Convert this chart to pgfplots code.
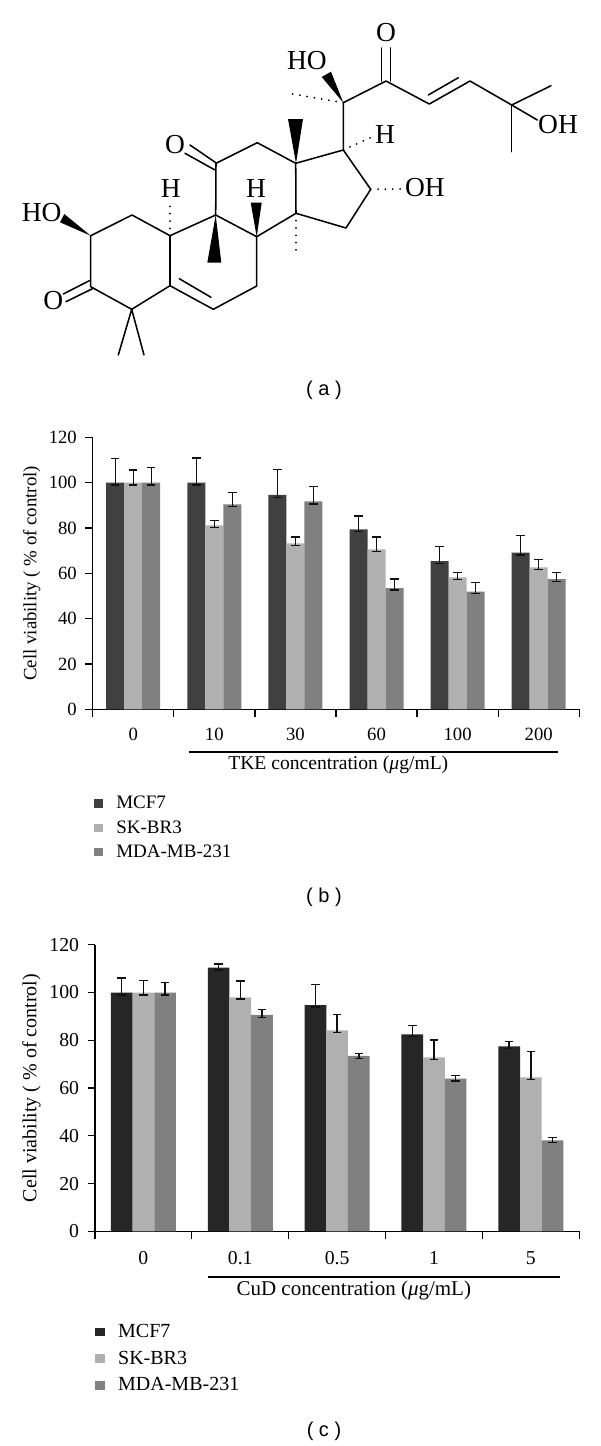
\documentclass[border=0pt]{standalone}
\usepackage{fontspec}
\setmainfont{Liberation Serif}
\newfontfamily\capfont{Liberation Sans}
\usepackage{pgfplots}
\pgfplotsset{compat=1.18}
% 1 px of the reference = 0.75pt
\definecolor{mcfb}{HTML}{404040}
\definecolor{mcfc}{HTML}{262626}
\definecolor{skbr}{HTML}{B0B0B0}
\definecolor{mdamb}{HTML}{808080}
\definecolor{errcol}{HTML}{111111}
\newcommand{\fs}[1]{\fontsize{#1}{#1}\selectfont}
\pgfplotsset{
  viab/.style={
    scale only axis,
    ybar=0pt,
    axis x line*=bottom,
    axis y line*=left,
    axis line style={line width=0.95pt,black},
    tick style={line width=0.95pt,black},
    tick align=outside,
    major tick length=5.4pt,
    ymin=0, ymax=120,
    ytick={0,20,40,60,80,100,120},
    x tick label as interval,
    /pgf/number format/assume math mode=true,
    xticklabel style={yshift=-5.2pt},
    yticklabel style={xshift=-3pt},
    ylabel={Cell viability ( \% of control)},
    legend cell align=left,
    legend image code/.code={\fill[##1] (0pt,-3.2pt) rectangle (6.8pt,3.2pt);},
    legend style={draw=none,fill=none,inner sep=0pt,outer sep=0pt,anchor=north west,
      /tikz/every even column/.append style={column sep=0pt}},
  },
  ebar/.style={
    draw=none, fill=#1,
    error bars/.cd, y dir=both, y explicit,
    error bar style={line width=1.05pt,errcol},
    error mark options={rotate=90,errcol,line width=1.05pt,mark size=3.2pt},
  },
}
\begin{document}
\begin{tikzpicture}
\useasboundingbox (0,0) rectangle (450pt,-1084.5pt);

% structure, panel (a)
\begin{scope}[x=0.75pt,y=-0.75pt,line width=1.15pt,line join=round,line cap=round]
\draw (90.7,235.7) -- (132,215) -- (170,235.7) -- (170,285.7) -- (131.7,309.3) -- (90.7,286.7) -- cycle;
\draw (170,285.7) -- (213.3,309.3) -- (256.7,286) -- (256.7,236.7) -- (215.7,215) -- (170,235.7);
\draw (179.3,278.7) -- (211,297.3);
\draw (215.7,215) -- (216,163.3) -- (257.3,142.7) -- (295.7,163.3) -- (296,213.3) -- (256.7,236.7);
\draw (295.7,163.3) -- (343.3,150) -- (370.7,189.3) -- (346,228) -- (296,213.3);
\draw (343.3,150) -- (343.3,102.7) -- (386,81) -- (429.3,104) -- (470,81) -- (511.7,105) -- (551,85.7);
\draw (428.3,95) -- (458.3,77.7);
\draw (511.7,105) -- (511.7,151.7);
\draw (511.7,105) -- (537.3,120);
\draw (381.7,81) -- (381.7,48) (390.7,81) -- (390.7,48);
\draw (190,145) -- (216.7,163.3) (185,153.3) -- (215,170);
\draw (89.3,280.7) -- (63.3,294) (93.3,288.3) -- (66,301.7);
\draw (131.7,309.3) -- (118.3,355) (131.7,309.3) -- (144,355);
% wedges
\fill (90.7,235.7) -- (64.3,214) -- (60,222.3) -- cycle;
\fill (215.7,215) -- (207.3,262.7) -- (221.3,262.7) -- cycle;
\fill (256.7,236.7) -- (250.7,202.7) -- (261.7,202.7) -- cycle;
\fill (296,163.3) -- (288,119) -- (303,119) -- cycle;
\fill (343.3,102.7) -- (321.7,77) -- (331,71.7) -- cycle;
% hashed bonds
\begin{scope}[line width=1.5pt,dash pattern=on 0pt off 5.5pt]
\draw (170,235.7) -- (170,204);
\draw (296,213.3) -- (296,252);
\draw (343.3,102.7) -- (287,93);
\draw (343.3,150) -- (371.7,137);
\draw (370.7,189.3) -- (401,189);
\end{scope}
% atoms
\begin{scope}[every node/.style={inner sep=0pt,font=\fs{20.6}}]
\node at (41.7,212.7) {HO};
\node at (53.3,300.7) {O};
\node at (175,145) {O};
\node at (170.7,189) {H};
\node at (256,189) {H};
\node at (307,61) {HO};
\node at (386,33) {O};
\node at (385,135) {H};
\node at (425,188) {OH};
\node at (558,125) {OH};
\end{scope}
% captions and the lines below the tick labels
\begin{scope}[every node/.style={inner sep=0pt}]
\node[font=\capfont\fs{15}] at (324,390) {( a )};
\node[font=\capfont\fs{15}] at (324,897) {( b )};
\node[font=\capfont\fs{15}] at (324,1431.7) {( c )};
\node[font=\fs{14.7}] at (338.3,765) {TKE concentration ({\itshape μ}g/mL)};
\node[font=\fs{15.75}] at (353.8,1290) {CuD concentration ({\itshape μ}g/mL)};
\end{scope}
\draw[line width=0.95pt,line cap=butt] (188.5,752) -- (557.7,752);
\draw[line width=0.95pt,line cap=butt] (207.7,1277) -- (559.6,1277);
\end{scope}

% panel (b)
\begin{axis}[viab,
  at={(69.5pt,-532pt)}, anchor=south west,
  width=364.95pt, height=204pt,
  font=\fs{14},
  tick label style={font=\fs{14}},
  label style={font=\fs{14.1}},
  ylabel style={at={(axis description cs:-0.125,0.5)},anchor=center},
  bar width=13.5pt,
  xmin=-0.5, xmax=5.5,
  xtick={-0.5,0.5,1.5,2.5,3.5,4.5,5.5},
  xticklabels={0,10,30,60,100,200},
  legend style={at={(axis description cs:0.002,-0.31)},font=\fs{14.25},row sep=3.2pt},
]
\addplot[ebar=mcfb] coordinates {
  (0,100) += (0,10.7) -= (0,1)
  (1,100) += (0,10.9) -= (0,1)
  (2,94.6) += (0,11.3) -= (0,1.1)
  (3,79.4) += (0,5.9) -= (0,1)
  (4,65.4) += (0,6.5) -= (0,1)
  (5,69.1) += (0,7.5) -= (0,1)};
\addlegendentry{\hspace{8.2pt}MCF7}
\addplot[ebar=skbr] coordinates {
  (0,100) += (0,5.6) -= (0,1)
  (1,81.2) += (0,2.2) -= (0,0.9)
  (2,73.2) += (0,2.8) -= (0,0.8)
  (3,70.6) += (0,5.4) -= (0,1)
  (4,58.2) += (0,2.1) -= (0,0.8)
  (5,62.6) += (0,3.4) -= (0,1)};
\addlegendentry{\hspace{8.2pt}SK-BR3}
\addplot[ebar=mdamb] coordinates {
  (0,100) += (0,6.8) -= (0,1)
  (1,90.4) += (0,5.2) -= (0,1)
  (2,91.8) += (0,6.4) -= (0,1.2)
  (3,53.5) += (0,4) -= (0,0.9)
  (4,51.9) += (0,4) -= (0,0.9)
  (5,57.5) += (0,2.8) -= (0,1)};
\addlegendentry{\hspace{8.2pt}MDA-MB-231}
\end{axis}

% panel (c)
\begin{axis}[viab,
  at={(71.25pt,-923.5pt)}, anchor=south west,
  width=363.2pt, height=214.95pt,
  font=\fs{14.8},
  tick label style={font=\fs{14.8}},
  label style={font=\fs{15}},
  xticklabel style={yshift=-1pt},
  ylabel style={at={(axis description cs:-0.131,0.5)},anchor=center},
  bar width=16.25pt,
  xmin=-0.5, xmax=4.5,
  xtick={-0.5,0.5,1.5,2.5,3.5,4.5},
  xticklabels={0,0.1,0.5,1,5},
  legend style={at={(axis description cs:0.001,-0.315)},font=\fs{15},row sep=4.6pt},
]
\addplot[ebar=mcfc] coordinates {
  (0,100) += (0,6) -= (0,1)
  (1,110.4) += (0,1.6) -= (0,0.9)
  (2,94.7) += (0,8.6) -= (0,0.8)
  (3,82.5) += (0,3.6) -= (0,1)
  (4,77.4) += (0,2) -= (0,0.8)};
\addlegendentry{\hspace{8.2pt}MCF7}
\addplot[ebar=skbr] coordinates {
  (0,100) += (0,5) -= (0,1)
  (1,98) += (0,6.8) -= (0,0.7)
  (2,84.1) += (0,6.6) -= (0,0.9)
  (3,72.8) += (0,7.4) -= (0,0.9)
  (4,64.5) += (0,10.7) -= (0,1)};
\addlegendentry{\hspace{8.2pt}SK-BR3}
\addplot[ebar=mdamb] coordinates {
  (0,100) += (0,4.1) -= (0,1)
  (1,90.6) += (0,2.2) -= (0,1)
  (2,73.5) += (0,1) -= (0,1.1)
  (3,63.9) += (0,1.4) -= (0,1)
  (4,38.1) += (0,1.1) -= (0,1)};
\addlegendentry{\hspace{8.2pt}MDA-MB-231}
\end{axis}
\end{tikzpicture}
\end{document}
